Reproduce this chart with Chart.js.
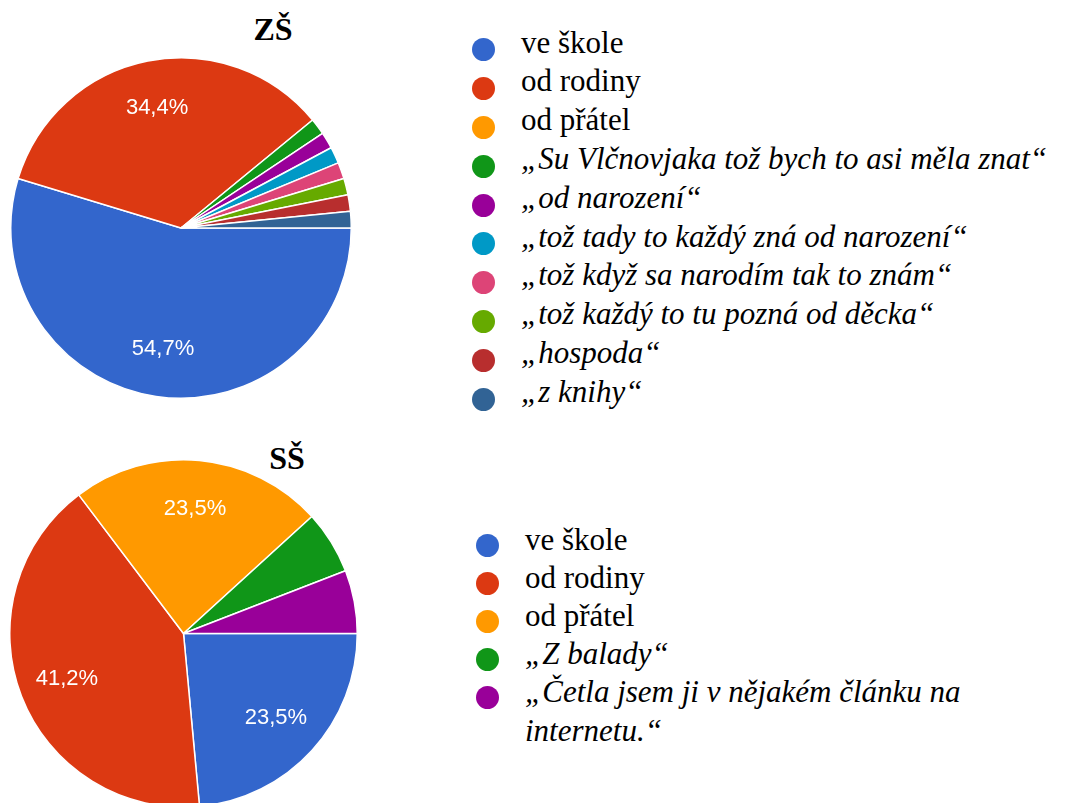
<!DOCTYPE html>
<html>
<head>
<meta charset="utf-8">
<script src="https://cdn.jsdelivr.net/npm/chart.js@4"></script>
<style>
  html, body { margin: 0; padding: 0; background: #fff; }
  body { width: 1067px; height: 803px; position: relative; overflow: hidden; }
  .box { position: absolute; }
  .title { position: absolute; font-family: "Liberation Serif", "Times New Roman", serif; font-weight: bold; font-size: 32px; transform: translateX(-50%); white-space: nowrap; }
  .legend { position: absolute; font-family: "Liberation Serif", "Times New Roman", serif; font-size: 31px; color: #000; }
  .legend .row { position: absolute; left: 0; }
  .legend .dot { position: absolute; width: 23px; height: 23px; border-radius: 50%; }
  .legend .txt { position: absolute; line-height: 38.5px; white-space: normal; }
</style>
</head>
<body>
<div class="title" style="left:273px; top:11px;">ZŠ</div>
<div class="title" style="left:287px; top:440px;">SŠ</div>
<div class="box" style="left:10px; top:57px; width:342px; height:342px;"><canvas id="zsChart"></canvas></div>
<div class="box" style="left:9px; top:459px; width:349px; height:349px;"><canvas id="ssChart"></canvas></div>
<div class="legend" id="zsLegend" style="left:472px; top:30.6px;"></div>
<div class="legend" id="ssLegend" style="left:476px; top:526px;"></div>
<script>
'use strict';

const zsLabels = [
  've škole',
  'od rodiny',
  'od přátel',
  '„Su Vlčnovjaka tož bych to asi měla znat“',
  '„od narození“',
  '„tož tady to každý zná od narození“',
  '„tož když sa narodím tak to znám“',
  '„tož každý to tu pozná od děcka“',
  '„hospoda“',
  '„z knihy“',
];
const zsValues = [35, 22, 0, 1, 1, 1, 1, 1, 1, 1];

const ssLabels = [
  've škole',
  'od rodiny',
  'od přátel',
  '„Z balady“',
  '„Četla jsem ji v nějakém článku na internetu.“',
];
const ssValues = [4, 7, 4, 1, 1];

const palette = [
  '#3366CC', '#DC3912', '#FF9900', '#109618', '#990099',
  '#0099C6', '#DD4477', '#66AA00', '#B82E2E', '#316395',
];

// white percentage text inside the bigger slices
const sliceText = {
  id: 'sliceText',
  afterDatasetsDraw(chart) {
    const ctx = chart.ctx;
    const values = chart.data.datasets[0].data;
    const total = values.reduce((a, b) => a + b, 0);
    const arcs = chart.getDatasetMeta(0).data;
    ctx.save();
    ctx.fillStyle = '#fff';
    ctx.font = '22px "Liberation Sans", Arial, sans-serif';
    ctx.textAlign = 'center';
    ctx.textBaseline = 'middle';
    arcs.forEach((arc, i) => {
      const share = values[i] / total;
      if (share < 0.1) return;
      const p = arc.getProps(['x', 'y', 'startAngle', 'endAngle', 'outerRadius'], true);
      const mid = (p.startAngle + p.endAngle) / 2;
      const r = p.outerRadius * 0.72;
      const txt = (share * 100).toFixed(1).replace('.', ',') + '%';
      ctx.fillText(txt, p.x + Math.cos(mid) * r, p.y + Math.sin(mid) * r);
    });
    ctx.restore();
  }
};

function makePie(id, labels, values) {
  return new Chart(document.getElementById(id), {
    type: 'pie',
    data: {
      labels: labels,
      datasets: [{
        data: values,
        backgroundColor: palette.slice(0, labels.length),
        borderColor: '#fff',
        borderWidth: 1.5,
        hoverOffset: 0,
      }]
    },
    options: {
      responsive: true,
      maintainAspectRatio: false,
      animation: false,
      rotation: 90,
      layout: { padding: 0 },
      plugins: {
        legend: { display: false },
        tooltip: { enabled: false },
      }
    },
    plugins: [sliceText]
  });
}

function makeLegend(el, chart, step, width, textTop) {
  const ds = chart.data.datasets[0];
  chart.data.labels.forEach((label, i) => {
    const row = document.createElement('div');
    row.className = 'row';
    row.style.top = (i * step) + 'px';
    const dot = document.createElement('div');
    dot.className = 'dot';
    dot.style.background = ds.backgroundColor[i];
    dot.style.left = '0px';
    dot.style.top = (step / 2 - 11.5) + 'px';
    const txt = document.createElement('div');
    txt.className = 'txt';
    txt.style.left = '49px';
    txt.style.top = textTop + 'px';
    txt.style.width = width + 'px';
    if (label.startsWith('„')) txt.style.fontStyle = 'italic';
    txt.textContent = label;
    row.appendChild(dot);
    row.appendChild(txt);
    el.appendChild(row);
  });
}

const zsChart = makePie('zsChart', zsLabels, zsValues);
const ssChart = makePie('ssChart', ssLabels, ssValues);
makeLegend(document.getElementById('zsLegend'), zsChart, 38.8, 560, -7);
makeLegend(document.getElementById('ssLegend'), ssChart, 38, 480, -5);
</script>
</body>
</html>
